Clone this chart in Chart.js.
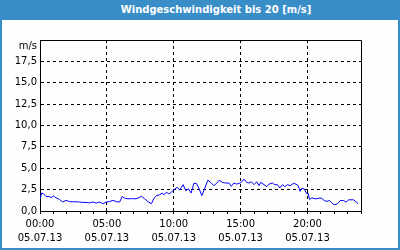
<!DOCTYPE html>
<html>
<head>
<meta charset="utf-8">
<script src="https://cdn.jsdelivr.net/npm/chart.js@4"></script>
<style>
  body { margin: 0; background: #fff; }
  #box { width: 400px; height: 250px; box-sizing: border-box; border: 2px solid #3a8ec8; border-top: none; background: #fdfefd; }
  #title { height: 20px; margin: 0 -2px; background: #3a8ec8; color: #fff; font: bold 10px "DejaVu Sans", sans-serif;
           line-height: 20px; text-align: center; padding-left: 32px; }
  canvas { display: block; }
</style>
</head>
<body>
<div id="box">
  <div id="title">Windgeschwindigkeit bis 20 [m/s]</div>
  <canvas id="chart" width="396" height="228"></canvas>
</div>
<script>
// hours since 00:00 on 05.07.13
const hours = [
  0, 0.125, 0.275, 0.45, 0.7, 0.825, 1.0, 1.2, 1.45, 1.7,
  1.95, 2.2, 2.45, 2.7, 2.95, 3.2, 3.45, 3.7, 3.95, 4.2,
  4.45, 4.7, 4.95, 5.2, 5.45, 5.7, 5.95, 6.15, 6.33, 6.58,
  6.83, 7.08, 7.33, 7.58, 7.83, 8.08, 8.33, 8.5, 8.7, 8.95,
  9.13, 9.28, 9.45, 9.63, 9.78, 9.95, 10.25, 10.45, 10.7, 10.9,
  11.1, 11.3, 11.5, 11.7, 11.9, 12.1, 12.3, 12.55, 12.75, 13.0,
  13.2, 13.4, 13.63, 13.88, 14.13, 14.3, 14.5, 14.7, 14.9, 15.05,
  15.25, 15.45, 15.63, 15.8, 16.0, 16.2, 16.38, 16.5, 16.75, 16.95,
  17.13, 17.38, 17.55, 17.75, 17.93, 18.13, 18.3, 18.5, 18.7, 18.95,
  19.13, 19.3, 19.45, 19.58, 19.75, 19.95, 20.05, 20.15, 20.33, 20.58,
  20.88, 21.05, 21.25, 21.45, 21.63, 21.88, 22.05, 22.25, 22.45, 22.7,
  22.88, 23.08, 23.25, 23.45, 23.65, 23.8
];
// wind speed in m/s
const speeds = [
  1.42, 2.1, 2.0, 1.7, 1.7, 1.55, 1.75, 1.55, 1.35, 1.05,
  1.25, 1.1, 1.08, 1.08, 1.05, 1.0, 1.0, 0.95, 1.05, 0.92,
  1.05, 0.85, 1.05, 1.1, 1.25, 1.1, 1.05, 1.7, 1.5, 1.42,
  1.45, 1.42, 1.5, 1.73, 1.42, 1.08, 0.85, 1.42, 1.8, 1.9,
  2.1, 1.9, 2.2, 2.0, 2.15, 2.4, 2.77, 2.46, 3.08, 2.38,
  2.58, 2.1, 3.23, 3.23, 2.58, 1.8, 2.58, 3.6, 3.35, 2.96,
  3.23, 3.6, 3.35, 3.27, 3.27, 2.88, 3.27, 3.15, 3.23, 3.35,
  3.73, 3.35, 3.27, 3.42, 3.08, 3.42, 2.96, 3.35, 3.08, 2.85,
  3.15, 3.27, 3.08, 3.08, 2.7, 3.08, 2.85, 3.08, 2.96, 3.23,
  3.15, 2.96, 2.3, 2.65, 2.58, 2.0, 2.07, 1.35, 1.54, 1.42,
  1.5, 1.5, 1.23, 1.12, 1.23, 0.85, 0.73, 0.85, 1.23, 1.23,
  1.04, 1.31, 1.31, 1.31, 1.04, 0.85
];
const timeLabels = { 0: '00:00', 5: '05:00', 10: '10:00', 15: '15:00', 20: '20:00' };
const dateLabel = '05.07.13';
const yUnit = 'm/s';

const font = { family: '"DejaVu Sans", sans-serif', size: 10 };

// solid frame on top and right of the plot area
const framePlugin = {
  id: 'frame',
  afterDraw(chart) {
    const { ctx, chartArea: a } = chart;
    ctx.save();
    ctx.strokeStyle = '#000';
    ctx.lineWidth = 1;
    ctx.beginPath();
    ctx.moveTo(a.left, a.top + 0.5);
    ctx.lineTo(a.right + 0.5, a.top + 0.5);
    ctx.lineTo(a.right + 0.5, a.bottom);
    ctx.stroke();
    ctx.restore();
  }
};

new Chart(document.getElementById('chart'), {
  type: 'line',
  data: {
    datasets: [{
      data: hours.map((h, i) => ({ x: h, y: speeds[i] })),
      borderColor: '#0000ff',
      borderWidth: 1,
      pointRadius: 0,
      tension: 0,
      fill: false
    }]
  },
  options: {
    animation: false,
    responsive: false,
    layout: { padding: { left: 0, right: 37, top: 20, bottom: 0 } },
    plugins: { legend: { display: false }, tooltip: { enabled: false } },
    scales: {
      x: {
        type: 'linear',
        min: 0,
        max: 24,
        afterFit: s => { s.height = 37; },
        ticks: {
          stepSize: 1,
          autoSkip: false,
          maxRotation: 0,
          padding: 3,
          color: '#000',
          font: { ...font, lineHeight: 1.45 },
          callback: v => timeLabels[v] !== undefined ? [timeLabels[v], dateLabel] : ''
        },
        grid: {
          color: c => (c.tick && c.tick.value % 5 === 0) ? '#000' : 'rgba(0,0,0,0)',
          tickColor: '#000',
          tickLength: 3
        },
        border: { color: '#000', dash: [3, 3] }
      },
      y: {
        min: 0,
        max: 20,
        afterFit: s => { s.width = 38; },
        ticks: {
          stepSize: 2.5,
          autoSkip: false,
          padding: 3,
          color: '#000',
          font: { ...font, lineHeight: 1.3 },
          callback: v => v === 20 ? ['', yUnit] : v.toFixed(1).replace('.', ',')
        },
        grid: { color: '#000', drawTicks: false },
        border: { color: '#000', dash: [3, 3] }
      }
    }
  },
  plugins: [framePlugin]
});
</script>
</body>
</html>
